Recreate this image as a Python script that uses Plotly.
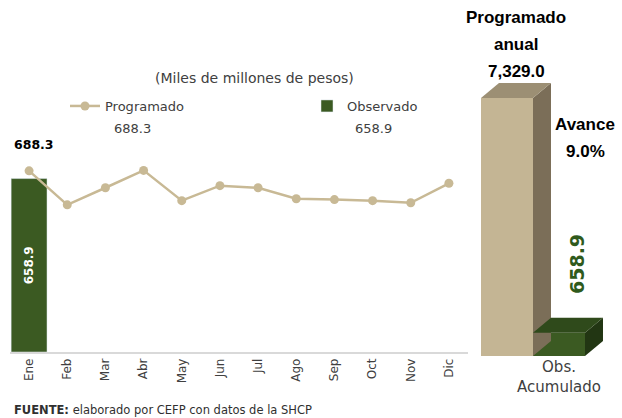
import plotly.graph_objects as go

meses = ["Ene", "Feb", "Mar", "Abr", "May", "Jun", "Jul", "Ago", "Sep", "Oct", "Nov", "Dic"]
programado = [688.3, 559.0, 624.0, 690.0, 575.0, 632.0, 624.0, 582.0, 579.0, 575.0, 567.0, 641.0]
observado_mes = ["Ene"]
observado = [658.9]

acum_labels = ["Programado anual", "Obs. Acumulado"]
acum_values = [7329.0, 658.9]

TAN = "#c8b995"
GREEN = "#3b5a22"
GRAY = "#404040"
FONT = "DejaVu Sans"
BOLD = "Liberation Sans"

fig = go.Figure()

# --- panel mensual ---
fig.add_trace(go.Bar(
    x=observado_mes, y=observado, name="Observado", width=0.94,
    marker=dict(color=GREEN), text=[f"{v:,.1f}" for v in observado],
    textposition="inside", textangle=-90, insidetextanchor="middle",
    textfont=dict(color="white", size=12, family=FONT, weight="bold"),
    legend="legend2", hoverinfo="skip",
))
fig.add_trace(go.Scatter(
    x=meses, y=programado, name="Programado", mode="lines+markers",
    line=dict(color=TAN, width=2.5), marker=dict(size=9, color=TAN),
    hoverinfo="skip",
))

# --- panel acumulado (barras 3D) ---
dx, dy = 0.346, 426
faces = [("#c4b594", "#9c8f74", "#7b6e58"), (GREEN, "#2f4a1b", "#223613")]
for i, v in enumerate(acum_values):
    front, top, side = faces[i]
    fig.add_trace(go.Bar(x=[i], y=[v], width=1, marker=dict(color=front, line=dict(width=0)),
                         xaxis="x2", yaxis="y2", showlegend=False, hoverinfo="skip"))
    fig.add_trace(go.Scatter(
        x=[i + 0.5, i + 0.5, i + 0.5 + dx, i + 0.5 + dx, i + 0.5],
        y=[0, v, v + dy, dy, 0], fill="toself", fillcolor=side, mode="lines",
        line=dict(width=0), xaxis="x2", yaxis="y2", showlegend=False, hoverinfo="skip"))
    fig.add_trace(go.Scatter(
        x=[i - 0.5, i + 0.5, i + 0.5 + dx, i - 0.5 + dx, i - 0.5],
        y=[v, v, v + dy, v + dy, v], fill="toself", fillcolor=top, mode="lines",
        line=dict(width=0), xaxis="x2", yaxis="y2", showlegend=False, hoverinfo="skip"))

avance = acum_values[1] / acum_values[0] * 100


def paper_note(text, x, y, size, color=GRAY, xanchor="center", **kw):
    return dict(text=text, x=x / 622, y=1 - y / 418, xref="paper", yref="paper",
                xanchor=xanchor, yanchor="middle", showarrow=False,
                font=dict(size=size, color=color, **kw))


annotations = [
    paper_note("(Miles de millones de pesos)", 254, 78, 14),
    paper_note(f"{programado[0]:,.1f}", 132, 128, 13),
    paper_note(f"{observado[0]:,.1f}", 373, 128, 13),
    paper_note("<b>FUENTE:</b> elaborado por CEFP con datos de la SHCP", 12, 410, 11.5,
               color="#303030", xanchor="left"),
    dict(text=f"<b>{programado[0]:,.1f}</b>", x="Ene", y=programado[0], xref="x", yref="y",
         showarrow=False, yshift=26, xshift=5, font=dict(size=12.5, color="black")),
]

# etiquetas del panel acumulado
for txt, shift in [("Programado", 66), ("anual", 39), (f"{acum_values[0]:,.1f}", 12)]:
    annotations.append(dict(text=f"<b>{txt}</b>", x=dx / 2, y=acum_values[0] + dy, xref="x2", yref="y2",
                            yanchor="middle", showarrow=False, yshift=shift,
                            font=dict(size=17, color="black", family=BOLD)))
for txt, yv in [("Avance", 6590), (f"{avance:.1f}%", 5800)]:
    annotations.append(dict(text=f"<b>{txt}</b>", x=1.5, y=yv, xref="x2", yref="y2",
                            showarrow=False, font=dict(size=17, color="black", family=BOLD)))
annotations.append(dict(text=f"<b>{acum_values[1]:,.1f}</b>", x=1.35, y=acum_values[1] + dy,
                        xref="x2", yref="y2", yanchor="bottom", showarrow=False, textangle=-90,
                        yshift=22, font=dict(size=19, color="#2f5a1c", family=FONT)))

fig.update_layout(
    width=622, height=418,
    margin=dict(l=0, r=0, t=0, b=0),
    paper_bgcolor="white", plot_bgcolor="white",
    font=dict(family=FONT, color=GRAY),
    barmode="overlay",
    xaxis=dict(domain=[10 / 622, 468 / 622], tickangle=-90, showline=True, linecolor="#d9d9d9",
               linewidth=1.5, ticks="", showgrid=False, tickfont=dict(size=12, color=GRAY),
               range=[-0.5, 11.5], fixedrange=True),
    yaxis=dict(domain=[1 - 352 / 418, 0.7876], range=[0, 1000], visible=False),
    xaxis2=dict(domain=[470 / 622, 1.0], range=[-0.7115, 2.2115], anchor="y2",
                tickvals=[1], ticktext=["Obs.<br>Acumulado"], showgrid=False, zeroline=False,
                ticks="", tickfont=dict(size=15, color=GRAY)),
    yaxis2=dict(domain=[1 - 356 / 418, 0.9062], range=[0, 9000], anchor="x2", visible=False),
    legend=dict(orientation="h", x=65 / 622, y=1 - 106 / 418, xanchor="left", yanchor="middle",
                font=dict(size=13, color=GRAY), bgcolor="rgba(0,0,0,0)"),
    legend2=dict(orientation="h", x=307 / 622, y=1 - 106 / 418, xanchor="left", yanchor="middle",
                 font=dict(size=13, color=GRAY), bgcolor="rgba(0,0,0,0)"),
    annotations=annotations,
)

fig.write_html("out.html", config={"displayModeBar": False},
               post_script="document.body.style.margin='0';")
